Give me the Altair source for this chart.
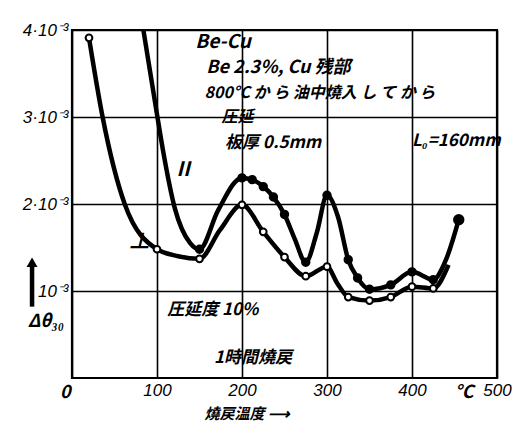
import altair as alt
import pandas as pd

# Curve ⊥ (open circles)
lower_x = [20, 36, 62, 100, 125, 150, 174, 200, 225, 250, 275, 300, 312, 325, 350, 375, 400, 425, 443]
lower_y = [3.91, 3.0, 2.0, 1.48, 1.40, 1.37, 1.70, 1.99, 1.68, 1.39, 1.17, 1.28, 1.09, 0.93, 0.89, 0.93, 1.05, 1.03, 1.30]
lower_mark = [1, 0, 0, 1, 0, 1, 0, 1, 1, 1, 1, 1, 0, 1, 1, 1, 1, 1, 0]

# Curve II (filled dots)
upper_x = [82, 100, 107, 121, 139, 150, 172, 200, 212, 225, 237, 250, 262, 275, 288, 300, 313, 325, 336, 350, 375, 400, 425, 440, 455]
upper_y = [4.12, 3.03, 2.62, 1.95, 1.55, 1.48, 1.93, 2.30, 2.28, 2.20, 2.08, 1.88, 1.60, 1.33, 1.67, 2.10, 1.85, 1.36, 1.15, 1.02, 1.07, 1.22, 1.13, 1.36, 1.82]
upper_mark = [0, 0, 0, 0, 0, 1, 0, 1, 1, 1, 1, 1, 0, 1, 0, 1, 0, 1, 1, 1, 1, 1, 1, 0, 2]

x_ticks = [0, 100, 200, 300, 400, 500]
y_ticks = [1, 2, 3, 4]

# annotations: text, x, y, size
notes_text = ["Be-Cu", "Be 2.3%, Cu 残部", "800°C か ら 油中燒入 し て か ら", "圧延", "板厚 0.5mm",
              "L₀=160mm", "II", "⊥", "圧延度 10%", "1時間燒戻", "°C", "Δθ₃₀", "燒戻溫度 ⟶", "0"]
notes_x = [145, 158, 156, 176, 180, 400, 123, 66, 112, 167, 450, -52, 156, -14]
notes_y = [3.86, 3.56, 3.28, 3.0, 2.70, 2.72, 2.39, 1.56, 0.78, 0.23, -0.17, 0.64, -0.41, -0.17]
notes_size = [19, 18, 16, 16, 17, 17, 20, 22, 17, 17, 18, 18, 15, 18]

# the "↑" beside the y axis: shaft bottom, shaft top, tip
arrow_x = [-47]
arrow_y = [0.82]
arrow_y2 = [1.28]
arrow_tip = [1.33]

lower = pd.DataFrame({"x": lower_x, "y": lower_y, "m": lower_mark})
upper = pd.DataFrame({"x": upper_x, "y": upper_y, "m": upper_mark})
notes = pd.DataFrame({"t": notes_text, "x": notes_x, "y": notes_y, "s": notes_size})
arrow = pd.DataFrame({"x": arrow_x, "y": arrow_y, "y2": arrow_y2, "tip": arrow_tip})

xs = alt.Scale(domain=[0, 500], nice=False)
ys = alt.Scale(domain=[0, 4], nice=False)

xax = alt.Axis(values=x_ticks, title=None, grid=True, gridColor="black", gridWidth=1.6, gridOpacity=1,
               ticks=False, domain=False, labelFont="Liberation Sans", labelFontStyle="italic",
               labelFontSize=17, labelColor="black", labelPadding=4, labelFlush=False,
               labelExpr="datum.value == 0 ? '' : datum.label")
yax = alt.Axis(values=y_ticks, title=None, grid=True, gridColor="black", gridWidth=1.6, gridOpacity=1,
               ticks=False, domain=False, labelFont="Liberation Sans", labelFontStyle="italic",
               labelFontSize=17, labelColor="black", labelPadding=4,
               labelExpr="datum.value == 1 ? '10⁻³' : datum.value + '·10⁻³'")

def curve(df):
    return alt.Chart(df).mark_line(color="black", strokeWidth=4.5, interpolate="monotone", clip=True).encode(
        x=alt.X("x:Q", scale=xs, axis=xax), y=alt.Y("y:Q", scale=ys, axis=yax))

l_line = curve(lower)
u_line = curve(upper)

l_pts = alt.Chart(lower).transform_filter("datum.m > 0").mark_point(
    shape="circle", filled=True, fill="white", stroke="black", strokeWidth=2, size=45, opacity=1).encode(
    x=alt.X("x:Q", scale=xs), y=alt.Y("y:Q", scale=ys))
u_pts = alt.Chart(upper).transform_filter("datum.m == 1").mark_point(
    shape="circle", filled=True, fill="black", stroke="black", size=55, opacity=1).encode(
    x=alt.X("x:Q", scale=xs), y=alt.Y("y:Q", scale=ys))
u_end = alt.Chart(upper).transform_filter("datum.m == 2").mark_point(
    shape="circle", filled=True, fill="black", size=130, opacity=1).encode(
    x=alt.X("x:Q", scale=xs), y=alt.Y("y:Q", scale=ys))

arr_shaft = alt.Chart(arrow).mark_rule(color="black", strokeWidth=4.5, clip=False).encode(
    x=alt.X("x:Q", scale=xs), y=alt.Y("y:Q", scale=ys), y2="y2:Q")
arr_head = alt.Chart(arrow).mark_point(shape="triangle-up", filled=True, fill="black", size=120,
                                       opacity=1, clip=False).encode(
    x=alt.X("x:Q", scale=xs), y=alt.Y("tip:Q", scale=ys))

txt = alt.Chart(notes).mark_text(align="left", baseline="middle", font="Noto Sans CJK JP",
                                 fontStyle="italic", fontWeight="bold", color="black", clip=False).encode(
    x=alt.X("x:Q", scale=xs), y=alt.Y("y:Q", scale=ys), text="t:N",
    size=alt.Size("s:Q", scale=None, legend=None))

chart = alt.layer(l_line, u_line, l_pts, u_pts, u_end, arr_shaft, arr_head, txt).properties(
    width=425, height=348,
    autosize=alt.AutoSizeParams(type="none"),
    padding={"left": 64, "top": 22, "right": 15, "bottom": 47},
    background="white",
).configure_view(stroke="black", strokeWidth=2.2)

chart.save("out.html", embed_options={"renderer": "svg", "actions": False})
